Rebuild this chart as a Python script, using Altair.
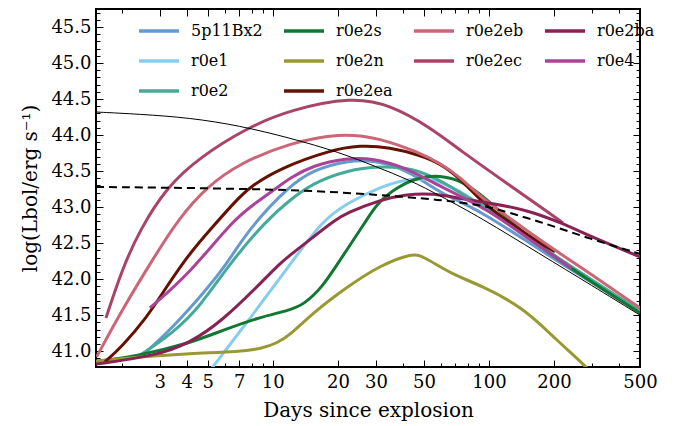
import altair as alt
import pandas as pd

models = ["5p11Bx2", "r0e1", "r0e2", "r0e2s", "r0e2n", "r0e2ea",
          "r0e2eb", "r0e2ec", "r0e2ba", "r0e4"]
colors = ["#6699CC", "#88CCEE", "#44AA99", "#117733", "#999933", "#661100",
          "#CC6677", "#AA4466", "#882255", "#AA4499"]
# legend: 3 rows x 4 columns filled column by column (two empty slots)
legend_order = ["5p11Bx2", "r0e1", "r0e2",
                "r0e2s", "r0e2n", "r0e2ea",
                "r0e2eb", "r0e2ec", "blank1",
                "r0e2ba", "r0e4", "blank2"]

days_5p11Bx2 = [2.64, 3.44, 4.59, 5.87, 7.83, 12.0, 15.3, 22.0, 31.3, 44.5, 59.3, 90.8, 172, 500]
logL_5p11Bx2 = [41.01, 41.33, 41.75, 42.125, 42.72, 43.3, 43.51, 43.65, 43.65, 43.47, 43.19, 42.96, 42.40, 41.54]

days_r0e1 = [5.0, 7.83, 12.0, 17.0, 22.0, 31.3, 41.7, 53.3, 68.1, 84.4, 100, 172, 500]
logL_r0e1 = [40.69, 41.45, 42.2, 42.82, 43.05, 43.28, 43.39, 43.40, 43.28, 43.1, 42.98, 42.43, 41.55]

days_r0e2 = [2.42, 3.44, 4.59, 6.32, 9.38, 12.0, 15.3, 22.0, 31.3, 44.5, 59.3, 79, 100, 172, 500]
logL_r0e2 = [40.94, 41.25, 41.61, 42.22, 42.82, 43.1, 43.33, 43.51, 43.57, 43.54, 43.375, 43.14, 42.98, 42.45, 41.56]

days_r0e2s = [1.52, 2.35, 4.13, 5.87, 8.44, 12.0, 13.8, 17.0, 20.4, 27.2, 30.3, 37.5, 48.0, 59.3, 73.4, 90.8, 112, 172, 500]
logL_r0e2s = [40.86, 40.93, 41.11, 41.29, 41.46, 41.57, 41.64, 41.89, 42.26, 42.82, 43.05, 43.28, 43.42, 43.44, 43.375, 43.19, 42.95, 42.42, 41.53]

days_r0e2n = [1.52, 2.42, 4.13, 7.03, 8.99, 10.4, 12.0, 15.3, 22.0, 31.3, 44.1, 49.5, 68.1, 90.8, 144, 206, 284, 330]
logL_r0e2n = [40.86, 40.92, 40.97, 40.99, 41.04, 41.11, 41.22, 41.53, 41.89, 42.19, 42.36, 42.32, 42.06, 41.92, 41.61, 41.15, 40.78, 40.55]

days_r0e2ea = [1.67, 2.0, 2.61, 3.0, 4.0, 5.0, 6.8, 7.83, 10.8, 18.4, 25.3, 34.8, 48.0, 59.3, 73.4, 90.8, 112, 172, 202]
logL_r0e2ea = [40.85, 41.06, 41.47, 41.75, 42.31, 42.65, 43.1, 43.28, 43.54, 43.79, 43.86, 43.83, 43.72, 43.61, 43.40, 43.10, 42.88, 42.5, 42.38]

days_r0e2eb = [1.53, 2.0, 2.90, 3.63, 4.94, 7.03, 12.0, 20.4, 31.3, 48.0, 59.3, 73.4, 90.8, 112, 172, 293, 500]
logL_r0e2eb = [40.92, 41.57, 42.36, 42.82, 43.28, 43.61, 43.89, 44.03, 43.96, 43.75, 43.61, 43.42, 43.15, 42.95, 42.54, 42.08, 41.60]

days_r0e2ec = [1.69, 2.0, 2.42, 3.23, 4.59, 7.58, 12.0, 23.4, 34.8, 53.3, 73.4, 121, 198, 220]
logL_r0e2ec = [41.46, 42.125, 42.68, 43.28, 43.69, 44.10, 44.35, 44.53, 44.42, 44.11, 43.79, 43.33, 42.88, 42.78]

days_r0e2ba = [1.52, 2.90, 4.13, 5.87, 8.44, 10.8, 12.0, 15.3, 19.4, 22.0, 31.3, 41.7, 55.1, 73.4, 104, 150, 213, 303, 500]
logL_r0e2ba = [40.82, 40.94, 41.11, 41.43, 41.89, 42.22, 42.33, 42.58, 42.82, 42.92, 43.1, 43.18, 43.19, 43.12, 43.05, 42.96, 42.79, 42.58, 42.31]

days_r0e4 = [2.70, 4.13, 6.53, 8.44, 10.8, 12.0, 15.3, 22.0, 29.0, 41.7, 53.3, 90.8, 112, 172, 242]
logL_r0e4 = [41.6, 42.08, 42.82, 43.07, 43.3, 43.4, 43.58, 43.68, 43.68, 43.54, 43.36, 43.02, 42.85, 42.45, 42.15]

days_solid = [1.52, 2.42, 4.13, 7.03, 12.0, 20.4, 30, 43.1, 60, 90.8, 172, 300, 500]
logL_solid = [44.32, 44.29, 44.24, 44.13, 43.96, 43.76, 43.56, 43.375, 43.15, 42.86, 42.35, 41.91, 41.5]

days_dashed = [1.52, 12, 31, 60, 91, 112, 172, 293, 500]
logL_dashed = [43.28, 43.25, 43.17, 43.1, 43.03, 42.96, 42.8, 42.56, 42.35]

x_ticks = [2, 3, 4, 5, 6, 7, 8, 9, 10, 20, 30, 40, 50, 60, 70, 80, 90, 100, 200, 300, 400, 500]
x_labels = [3, 4, 5, 7, 10, 20, 30, 50, 100, 200, 500]
y_ticks = [40.8, 40.9, 41.0, 41.1, 41.2, 41.3, 41.4, 41.5, 41.6, 41.7, 41.8, 41.9,
           42.0, 42.1, 42.2, 42.3, 42.4, 42.5, 42.6, 42.7, 42.8, 42.9,
           43.0, 43.1, 43.2, 43.3, 43.4, 43.5, 43.6, 43.7, 43.8, 43.9,
           44.0, 44.1, 44.2, 44.3, 44.4, 44.5, 44.6, 44.7, 44.8, 44.9,
           45.0, 45.1, 45.2, 45.3, 45.4, 45.5, 45.6, 45.7]

series = {
    "5p11Bx2": (days_5p11Bx2, logL_5p11Bx2),
    "r0e1": (days_r0e1, logL_r0e1),
    "r0e2": (days_r0e2, logL_r0e2),
    "r0e2s": (days_r0e2s, logL_r0e2s),
    "r0e2n": (days_r0e2n, logL_r0e2n),
    "r0e2ea": (days_r0e2ea, logL_r0e2ea),
    "r0e2eb": (days_r0e2eb, logL_r0e2eb),
    "r0e2ec": (days_r0e2ec, logL_r0e2ec),
    "r0e2ba": (days_r0e2ba, logL_r0e2ba),
    "r0e4": (days_r0e4, logL_r0e4),
}
rows = []
for m in models:
    d, l = series[m]
    for j, (xv, yv) in enumerate(zip(d, l)):
        rows.append({"model": m, "days": xv, "logL": yv, "idx": j})
df = pd.DataFrame(rows)
df_solid = pd.DataFrame({"days": days_solid, "logL": logL_solid})
df_dashed = pd.DataFrame({"days": days_dashed, "logL": logL_dashed})

FONT = "DejaVu Serif"
xlab_arr = "[" + ",".join(str(v) for v in x_labels) + "]"
x_major = f"indexof({xlab_arr}, datum.value) >= 0"
y_major = "abs(datum.value*2 - round(datum.value*2)) < 0.01"

xscale = alt.Scale(type="log", domain=[1.52, 500], nice=False)
yscale = alt.Scale(domain=[40.78, 45.75], nice=False, zero=False)

x_bottom = alt.Axis(orient="bottom", values=x_ticks, title="Days since explosion",
                    labelExpr=f"{x_major} ? format(datum.value, 'd') : ''",
                    tickSize=alt.ExprRef(expr=f"{x_major} ? -7 : -4"),
                    labelPadding=13, labelOverlap=False, labelFlush=False,
                    titlePadding=6)
y_left = alt.Axis(orient="left", values=y_ticks,
                  title="log(Lbol/erg s⁻¹)",
                  labelExpr=f"{y_major} ? format(datum.value, '.1f') : ''",
                  tickSize=alt.ExprRef(expr=f"{y_major} ? -7 : -4"),
                  labelPadding=12, labelOverlap=False, labelFlush=False,
                  titlePadding=10)
x_top = alt.Axis(orient="top", values=x_ticks, title=None, labels=False,
                 tickSize=alt.ExprRef(expr=f"{x_major} ? -7 : -4"))
y_right = alt.Axis(orient="right", values=y_ticks, title=None, labels=False,
                   tickSize=alt.ExprRef(expr=f"{y_major} ? -7 : -4"))

color_map = dict(zip(models, colors))
legend_colors = [color_map.get(m, "rgba(0,0,0,0)") for m in legend_order]

curves = alt.Chart(df).mark_line(strokeWidth=3, clip=True, interpolate="basis").encode(
    x=alt.X("days:Q", scale=xscale, axis=x_bottom),
    y=alt.Y("logL:Q", scale=yscale, axis=y_left),
    color=alt.Color("model:N",
                    scale=alt.Scale(domain=legend_order, range=legend_colors),
                    legend=alt.Legend(title=None, orient="none", legendX=41, legendY=0,
                                      columns=4, symbolType="stroke", symbolSize=1600,
                                      symbolStrokeWidth=3.5, labelFont=FONT,
                                      labelFontSize=16, labelOffset=10,
                                      columnPadding=14, rowPadding=0, padding=0,
                                      labelColor="black",
                                      labelExpr="indexof(datum.label, 'blank') == 0 ? '' : datum.label")),
    order=alt.Order("idx:Q"),
)

solid = alt.Chart(df_solid).mark_line(color="black", strokeWidth=1, clip=True,
                                      interpolate="basis").encode(
    x=alt.X("days:Q", scale=xscale, axis=x_top),
    y=alt.Y("logL:Q", scale=yscale, axis=y_right),
)

dashed = alt.Chart(df_dashed).mark_line(color="black", strokeWidth=2, strokeDash=[8, 5],
                                        clip=True, interpolate="basis").encode(
    x=alt.X("days:Q", scale=xscale, axis=None),
    y=alt.Y("logL:Q", scale=yscale, axis=None),
)

chart = alt.layer(curves, solid, dashed).resolve_axis(
    x="independent", y="independent"
).properties(
    width=544, height=358,
    autosize=alt.AutoSizeParams(type="none"),
    padding={"left": 88, "top": 1, "right": 30, "bottom": 56},
).configure_view(
    stroke="black", strokeWidth=2
).configure_axis(
    domain=False, grid=False, tickColor="black", tickWidth=1,
    labelFont=FONT, labelFontSize=18, labelColor="black",
    titleFont=FONT, titleFontSize=20, titleColor="black", titleFontWeight="normal",
)

chart.save("out.html", embed_options={"renderer": "svg", "actions": False})
